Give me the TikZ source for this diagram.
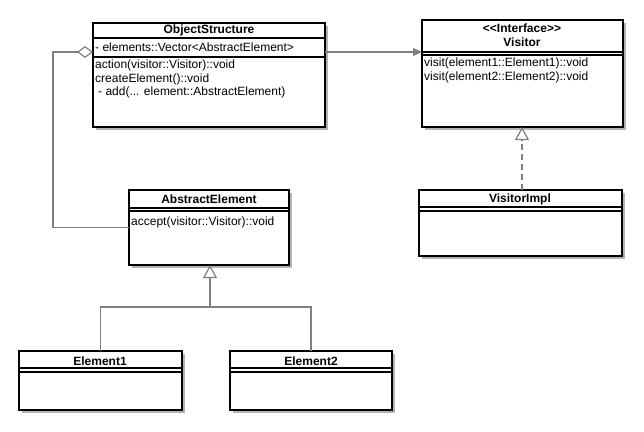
\documentclass[tikz,border=0pt]{standalone}
\usepackage{fontspec}
\setmainfont{Liberation Sans}
\usetikzlibrary{arrows.meta,calc}
\definecolor{shadowgray}{HTML}{B3B3B3}
\definecolor{conngray}{HTML}{808080}
\begin{document}
\begin{tikzpicture}[x=1pt,y=-1pt,
  box/.style={draw=black,line width=1.6pt,fill=white,rectangle,anchor=north west,inner sep=0pt,outer sep=0pt},
  shade/.style={fill=shadowgray,draw=none},
  shadeline/.style={draw=shadowgray,line width=1.6pt},
  conn/.style={draw=conngray,line width=1.2pt},
  divider/.style={draw=black,line width=1.6pt},
  title/.style={font=\bfseries\fontsize{12}{14}\selectfont,inner sep=0pt},
  txt/.style={font=\fontsize{12}{14}\selectfont,inner sep=0pt,anchor=west},
]
\fill[white] (0,0) rectangle (644,431);
\useasboundingbox (0,0) rectangle (644,431);

% ---- shadows ----
\fill[shade] (96,26) rectangle ++(232,104);
\draw[shadeline] (96,41) -- ++(232,0) (96,60) -- ++(232,0);
\fill[shade] (425,23) rectangle ++(201,107);
\draw[shadeline] (425,55) -- ++(201,0) (425,58) -- ++(201,0);
\fill[shade] (132,193) rectangle ++(160,75);
\draw[shadeline] (132,211) -- ++(160,0) (132,214) -- ++(160,0);
\fill[shade] (422,193) rectangle ++(203,66);
\draw[shadeline] (422,210) -- ++(203,0) (422,214) -- ++(203,0);
\fill[shade] (22,354) rectangle ++(163,59);
\draw[shadeline] (22,371) -- ++(163,0) (22,375) -- ++(163,0);
\fill[shade] (233,354) rectangle ++(162,59);
\draw[shadeline] (233,371) -- ++(162,0) (233,375) -- ++(162,0);

% ---- boxes ----
\node[box,minimum width=232pt,minimum height=104pt] (os) at (93,23) {};
\draw[divider] ($(os.north west)+(0,15)$) -- ($(os.north east)+(0,15)$);
\draw[divider] ($(os.north west)+(0,34)$) -- ($(os.north east)+(0,34)$);

\node[box,minimum width=201pt,minimum height=107pt] (vis) at (422,20) {};
\draw[divider] ($(vis.north west)+(0,32)$) -- ($(vis.north east)+(0,32)$);
\draw[divider] ($(vis.north west)+(0,35)$) -- ($(vis.north east)+(0,35)$);

\node[box,minimum width=160pt,minimum height=75pt] (ae) at (129,190) {};
\draw[divider] ($(ae.north west)+(0,18)$) -- ($(ae.north east)+(0,18)$);
\draw[divider] ($(ae.north west)+(0,21)$) -- ($(ae.north east)+(0,21)$);

\node[box,minimum width=203pt,minimum height=66pt] (vi) at (419,190) {};
\draw[divider] ($(vi.north west)+(0,17)$) -- ($(vi.north east)+(0,17)$);
\draw[divider] ($(vi.north west)+(0,21)$) -- ($(vi.north east)+(0,21)$);

\node[box,minimum width=163pt,minimum height=59pt] (e1) at (19,351) {};
\draw[divider] ($(e1.north west)+(0,17)$) -- ($(e1.north east)+(0,17)$);
\draw[divider] ($(e1.north west)+(0,21)$) -- ($(e1.north east)+(0,21)$);

\node[box,minimum width=162pt,minimum height=59pt] (e2) at (230,351) {};
\draw[divider] ($(e2.north west)+(0,17)$) -- ($(e2.north east)+(0,17)$);
\draw[divider] ($(e2.north west)+(0,21)$) -- ($(e2.north east)+(0,21)$);

% ---- texts ----
\node[title] (ost) at (209,30) {ObjectStructure};
\node[txt] (osa) at (95,47) {- elements::Vector<AbstractElement>};
\node[txt] (osm1) at (95,65) {action(visitor::Visitor)::void};
\node[txt] (osm2) at (95,79) {createElement()::void};
\node[txt] (osm3) at (95,92) {\hspace{3pt}- add(... element::AbstractElement)};

\node[title] (vst) at (522,28) {\mbox{<}\mbox{<}Interface\mbox{>}\mbox{>}};
\node[title] (vsn) at (522,42) {Visitor};
\node[txt] (vsm1) at (424,63) {visit(element1::Element1)::void};
\node[txt] (vsm2) at (424,77) {visit(element2::Element2)::void};

\node[title] (aet) at (209,199) {AbstractElement};
\node[txt] (aem) at (131,222) {accept(visitor::Visitor)::void};

\node[title] (vit) at (520,199) {VisitorImpl};
\node[title] (e1t) at (100,361) {Element1};
\node[title] (e2t) at (311,361) {Element2};

% ---- connectors ----
\coordinate (aggtip) at (93,52);
\coordinate (aggcorner) at (53,52);
\draw[conn,-{Diamond[open,fill=white,length=16pt,width=12pt,line width=1.2pt]}]
  (ae.west) -| (aggcorner) -- (aggtip);

\draw[conn,-{Triangle[length=9pt,width=8pt]}]
  (os.north east |- aggtip) -- (vis.west |- aggtip);

\coordinate (junc) at (210,307);
\draw[conn] (e1.north) |- (junc) -| (e2.north);
\draw[conn,-{Triangle[open,fill=white,length=13pt,width=14pt,line width=1.2pt]}]
  (junc) -- (junc |- ae.south);

\coordinate (vistop) at (522,190);
\draw[conn,dash pattern=on 6pt off 4pt,-{Triangle[open,fill=white,length=13pt,width=14pt,line width=1.2pt]}]
  (vistop) -- (vistop |- vis.south);
\end{tikzpicture}
\end{document}
